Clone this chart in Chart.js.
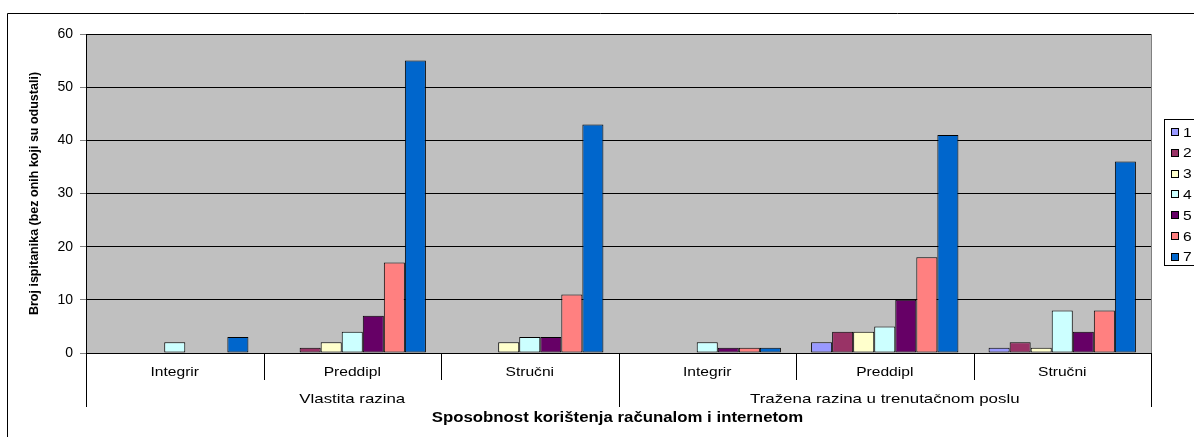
<!DOCTYPE html>
<html>
<head>
<meta charset="utf-8">
<script src="https://cdn.jsdelivr.net/npm/chart.js@4.4.1/dist/chart.umd.min.js"></script>
<style>
    html, body {margin: 0; padding: 0; background: #fff; overflow: hidden;}
    canvas {display: block;}
</style>
</head>
<body>
<canvas id="myChart" width="1194" height="437"></canvas>
<script>
const groups = ['Vlastita razina', 'Tražena razina u trenutačnom poslu'];
const categories = ['Integrir', 'Preddipl', 'Stručni', 'Integrir', 'Preddipl', 'Stručni'];
const seriesNames = ['1', '2', '3', '4', '5', '6', '7'];
const seriesColors = ['#9999FF', '#993366', '#FFFFCC', '#CCFFFF', '#660066', '#FF8080', '#0066CC'];

const s1 = [0, 0, 0, 0, 2, 1];
const s2 = [0, 1, 0, 0, 4, 2];
const s3 = [0, 2, 2, 0, 4, 1];
const s4 = [2, 4, 3, 2, 5, 8];
const s5 = [0, 7, 3, 1, 10, 4];
const s6 = [0, 17, 11, 1, 18, 8];
const s7 = [3, 55, 43, 1, 41, 36];
const seriesValues = [s1, s2, s3, s4, s5, s6, s7];

const yMin = 0, yMax = 60, yStep = 10;
const yTitle = 'Broj ispitanika (bez onih koji su odustali)';
const xTitle = 'Sposobnost korištenja računalom i internetom';

const font = 'Arial, "Liberation Sans", sans-serif';

// the original picture is a bit wide, so text drawn by hand gets stretched sideways
function wideText(ctx, text, x, y, sx) {
    ctx.save();
    ctx.translate(x, y);
    ctx.scale(sx, 1);
    ctx.fillText(text, 0, 0);
    ctx.restore();
}

// gray plot, outer frame, two-level x labels and legend (drawn by hand, Excel style)
const excelLook = {
    id: 'excelLook',
    beforeDraw(chart) {
        const {ctx, chartArea: a} = chart;
        ctx.save();
        ctx.fillStyle = '#C0C0C0';
        ctx.fillRect(a.left, a.top, a.right - a.left, a.bottom - a.top);
        ctx.restore();
    },
    afterDraw(chart) {
        const {ctx, chartArea: a} = chart;
        const x = chart.scales.x;
        const w = x.getPixelForValue(1) - x.getPixelForValue(0);
        ctx.save();

        // outer frame
        ctx.strokeStyle = '#000';
        ctx.lineWidth = 1;
        ctx.beginPath();
        ctx.moveTo(7.5, 437);
        ctx.lineTo(7.5, 13.5);
        ctx.lineTo(1194, 13.5);
        ctx.stroke();

        // right edge of plot
        ctx.strokeStyle = '#808080';
        ctx.beginPath();
        ctx.moveTo(Math.round(a.right) + 0.5, a.top);
        ctx.lineTo(Math.round(a.right) + 0.5, a.bottom);
        ctx.stroke();

        // separators under the axis
        ctx.strokeStyle = '#000';
        for (let i = 0; i <= categories.length; i++) {
            const px = Math.round(x.getPixelForValue(i) - w / 2) + 0.5;
            ctx.beginPath();
            ctx.moveTo(px, a.bottom);
            ctx.lineTo(px, i % 3 === 0 ? 407 : 380);
            ctx.stroke();
        }

        ctx.fillStyle = '#000';
        ctx.textAlign = 'center';
        ctx.textBaseline = 'middle';
        ctx.font = '13px ' + font;
        categories.forEach((c, i) => wideText(ctx, c, x.getPixelForValue(i), 372, 1.2));
        ctx.font = '13.5px ' + font;
        groups.forEach((g, i) => {
            const cx = (x.getPixelForValue(i * 3) + x.getPixelForValue(i * 3 + 2)) / 2;
            wideText(ctx, g, cx, 399, 1.25);
        });
        ctx.font = 'bold 14px ' + font;
        wideText(ctx, xTitle, (a.left + a.right) / 2 - 1, 418, 1.2);

        // legend
        ctx.strokeStyle = '#000';
        ctx.strokeRect(1164.5, 119.5, 60, 146);
        ctx.textAlign = 'left';
        ctx.font = '13px ' + font;
        chart.data.datasets.forEach((ds, i) => {
            const cy = 132 + i * 20.8;
            ctx.fillStyle = ds.backgroundColor;
            ctx.fillRect(1171.5, Math.round(cy - 4) + 0.5, 7, 7);
            ctx.strokeRect(1171.5, Math.round(cy - 4) + 0.5, 7, 7);
            ctx.fillStyle = '#000';
            wideText(ctx, ds.label, 1183, cy + 1, 1.2);
        });
        ctx.restore();
    }
};

const ctxChart = document.getElementById('myChart');

new Chart(ctxChart, {
    type: 'bar',
    data: {
        labels: categories,
        datasets: seriesValues.map((values, i) => ({
            label: seriesNames[i],
            data: values,
            backgroundColor: seriesColors[i],
            borderColor: '#000',
            borderWidth: c => c.raw === 0 ? 0 : 1,
            borderSkipped: false,
            barPercentage: 1,
            categoryPercentage: 0.83
        }))
    },
    options: {
        responsive: false,
        animation: false,
        devicePixelRatio: 1,
        layout: {
            padding: {top: 34, right: 43, left: 0, bottom: 0}
        },
        plugins: {
            legend: {display: false},
            tooltip: {enabled: false}
        },
        scales: {
            x: {
                afterFit: scale => { scale.height = 84; },
                grid: {display: false},
                border: {display: false},
                ticks: {display: false}
            },
            y: {
                min: yMin,
                max: yMax,
                afterFit: scale => { scale.width = 86; },
                ticks: {
                    stepSize: yStep,
                    color: '#000',
                    padding: 7,
                    font: {family: font, size: 14}
                },
                grid: {
                    color: '#000',
                    tickColor: '#808080',
                    tickLength: 6
                },
                border: {color: '#000'},
                title: {
                    display: true,
                    text: yTitle,
                    color: '#000',
                    font: {family: font, size: 12.5, weight: 'bold'},
                    padding: {top: 27, bottom: 0}
                }
            }
        }
    },
    plugins: [excelLook]
});
</script>
</body>
</html>
